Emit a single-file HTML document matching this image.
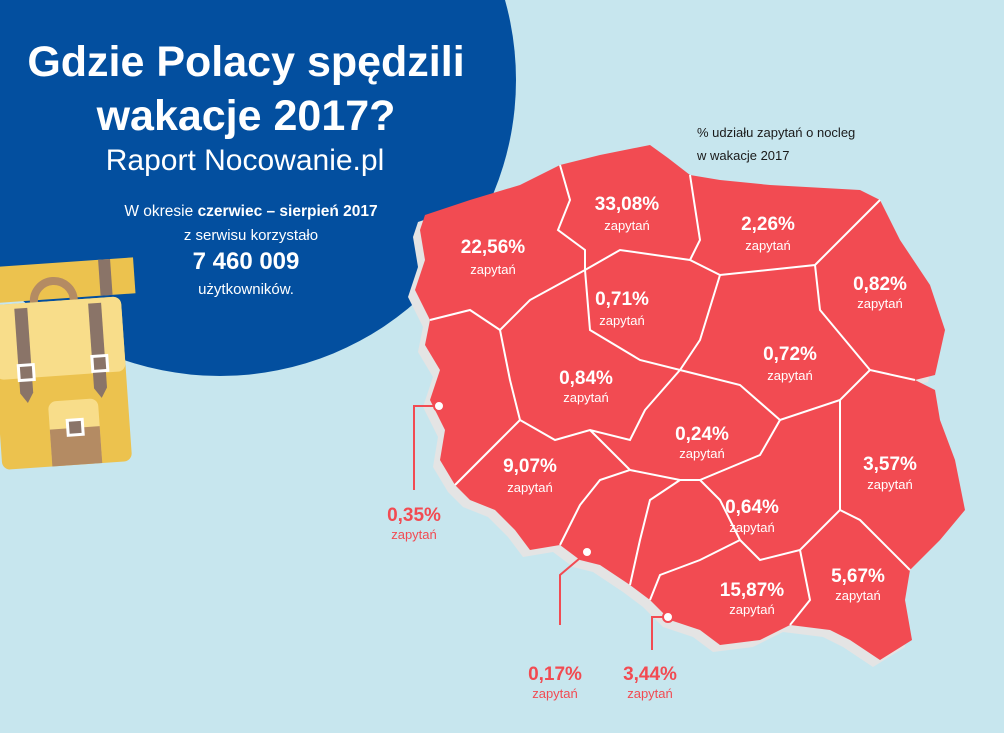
<!DOCTYPE html>
<html><head><meta charset="utf-8"><style>
body{margin:0;width:1004px;height:728px;overflow:hidden;background:#c7e6ee;font-family:"Liberation Sans",sans-serif}
</style></head><body>
<svg width="1004" height="728" viewBox="0 0 1004 728" xmlns="http://www.w3.org/2000/svg" font-family="Liberation Sans, sans-serif">
<rect width="1004" height="728" fill="#c7e6ee"/>
<circle cx="220" cy="80" r="296" fill="#034f9f"/>
<!-- backpack -->
<g transform="rotate(-4 70 360)">
<rect x="-10" y="262" width="150" height="36" fill="#ecc24e"/>
<rect x="105" y="262" width="12" height="36" fill="#8a7468"/>
<path d="M38 300 a20 20 0 0 1 40 0" fill="none" stroke="#b48b63" stroke-width="8"/>
<rect x="-5" y="300" width="130" height="165" rx="8" fill="#ecc24e"/>
<rect x="-5" y="300" width="130" height="75" rx="8" fill="#f8dd8a"/>
<path d="M18 305 h13 v85 l-6 10 l-7 -10z" fill="#8a7468"/>
<path d="M92 305 h13 v85 l-6 10 l-7 -10z" fill="#8a7468"/>
<rect x="18" y="362" width="15" height="15" fill="#8a7468" stroke="#fff" stroke-width="3"/>
<rect x="92" y="358" width="15" height="15" fill="#8a7468" stroke="#fff" stroke-width="3"/>
<rect x="45" y="400" width="50" height="65" rx="8" fill="#f8dd8a"/>
<rect x="45" y="428" width="50" height="37" fill="#b48b63"/>
<rect x="63" y="420" width="15" height="15" fill="#8a7468" stroke="#fff" stroke-width="3"/>
</g>
<text x="246" y="76" font-size="43" font-weight="bold" fill="#fff" text-anchor="middle">Gdzie Polacy spędzili</text>
<text x="246" y="130" font-size="43" font-weight="bold" fill="#fff" text-anchor="middle">wakacje 2017?</text>
<text x="245" y="170" font-size="30" fill="#fff" text-anchor="middle">Raport Nocowanie.pl</text>
<text x="251" y="216" font-size="15.5" fill="#fff" text-anchor="middle">W okresie <tspan font-weight="bold">czerwiec – sierpień 2017</tspan></text>
<text x="251" y="240" font-size="15" fill="#fff" text-anchor="middle">z serwisu korzystało</text>
<text x="246" y="269" font-size="24" font-weight="bold" fill="#fff" text-anchor="middle">7 460 009</text>
<text x="246" y="294" font-size="15" fill="#fff" text-anchor="middle">użytkowników.</text>
<text x="697" y="137" font-size="13" fill="#1a1a1a">% udziału zapytań o nocleg</text>
<text x="697" y="160" font-size="13" fill="#1a1a1a">w wakacje 2017</text>
<!-- map -->
<g>
<path d="M425 215 L470 200 L520 185 L560 165 L600 155 L650 145 L668 158 L690 175 L720 180 L770 185 L860 190 L880 200 L900 240 L930 285 L945 330 L935 375 L915 380 L935 390 L940 420 L955 460 L965 510 L940 540 L910 570 L905 600 L912 640 L880 660 L850 640 L830 630 L790 625 L760 640 L720 645 L700 630 L670 620 L650 600 L630 585 L600 565 L580 560 L560 545 L530 550 L515 530 L495 510 L470 500 L455 485 L440 460 L445 430 L430 400 L440 370 L425 345 L430 320 L415 290 L425 260 L420 230 Z" fill="#e4e4e4" transform="translate(-7 7)"/>
<path d="M425 215 L470 200 L520 185 L560 165 L600 155 L650 145 L668 158 L690 175 L720 180 L770 185 L860 190 L880 200 L900 240 L930 285 L945 330 L935 375 L915 380 L935 390 L940 420 L955 460 L965 510 L940 540 L910 570 L905 600 L912 640 L880 660 L850 640 L830 630 L790 625 L760 640 L720 645 L700 630 L670 620 L650 600 L630 585 L600 565 L580 560 L560 545 L530 550 L515 530 L495 510 L470 500 L455 485 L440 460 L445 430 L430 400 L440 370 L425 345 L430 320 L415 290 L425 260 L420 230 Z" fill="#f24b52"/>
<g fill="none" stroke="#fff" stroke-width="2">
<path d="M560 165 L570 200 L558 230 L585 250 L585 270"/>
<path d="M690 175 L700 240 L690 260"/>
<path d="M585 270 L620 250 L690 260 L720 275 L815 265 L880 200"/>
<path d="M500 330 L530 300 L585 270"/>
<path d="M430 320 L470 310 L500 330"/>
<path d="M585 270 L590 330 L640 360 L680 370 L700 340 L720 275"/>
<path d="M815 265 L820 310 L870 370 L915 380"/>
<path d="M500 330 L510 380 L520 420 L555 440 L590 430 L630 440 L645 410 L680 370"/>
<path d="M680 370 L740 385 L780 420 L840 400 L870 370"/>
<path d="M455 485 L500 440 L520 420"/>
<path d="M590 430 L630 470 L600 480 L580 505 L560 545"/>
<path d="M630 470 L680 480 L700 480 L760 455 L780 420"/>
<path d="M680 480 L650 500 L640 540 L630 585"/>
<path d="M700 480 L720 500 L740 540 L760 560 L800 550 L840 510 L840 400"/>
<path d="M740 540 L700 560 L660 575 L650 600"/>
<path d="M840 510 L860 520 L910 570"/>
<path d="M800 550 L810 600 L790 625"/>
</g>
</g>
<g fill="#fff" text-anchor="middle">
<g font-size="19" font-weight="bold">
<text x="493" y="253">22,56%</text><text x="627" y="210">33,08%</text><text x="768" y="230">2,26%</text>
<text x="880" y="290">0,82%</text><text x="622" y="305">0,71%</text><text x="790" y="360">0,72%</text>
<text x="586" y="384">0,84%</text><text x="702" y="440">0,24%</text><text x="530" y="472">9,07%</text>
<text x="890" y="470">3,57%</text><text x="752" y="513">0,64%</text><text x="752" y="596">15,87%</text>
<text x="858" y="582">5,67%</text></g>
<g font-size="13">
<text x="493" y="274">zapytań</text><text x="627" y="230">zapytań</text><text x="768" y="250">zapytań</text>
<text x="880" y="308">zapytań</text><text x="622" y="325">zapytań</text><text x="790" y="380">zapytań</text>
<text x="586" y="402">zapytań</text><text x="702" y="458">zapytań</text><text x="530" y="492">zapytań</text>
<text x="890" y="489">zapytań</text><text x="752" y="532">zapytań</text><text x="752" y="614">zapytań</text>
<text x="858" y="600">zapytań</text></g>
</g>
<g stroke="#f24b52" stroke-width="2" fill="none">
<path d="M437 406 H414 V490"/><path d="M586 553 L560 575 V625"/><path d="M668 617 H652 V650"/>
</g>
<g fill="#fff" stroke="#f24b52" stroke-width="2"><circle cx="439" cy="406" r="5"/><circle cx="587" cy="552" r="5"/><circle cx="668" cy="617" r="5"/></g>
<g fill="#f24b52" text-anchor="middle">
<text x="414" y="521" font-size="19" font-weight="bold">0,35%</text><text x="414" y="539" font-size="13">zapytań</text>
<text x="555" y="680" font-size="19" font-weight="bold">0,17%</text><text x="555" y="698" font-size="13">zapytań</text>
<text x="650" y="680" font-size="19" font-weight="bold">3,44%</text><text x="650" y="698" font-size="13">zapytań</text>
</g>
</svg>
</body></html>
